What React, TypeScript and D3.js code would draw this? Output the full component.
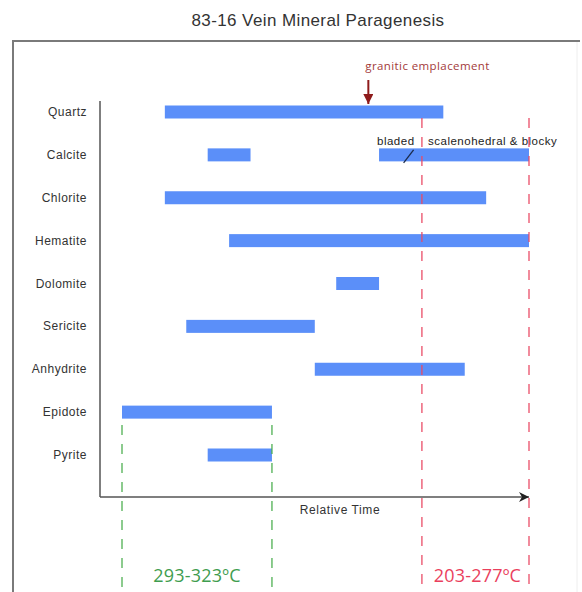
import React, { useEffect, useRef } from 'react';
import * as d3 from 'd3';

// minerals, top to bottom
const minerals = ['Quartz', 'Calcite', 'Chlorite', 'Hematite', 'Dolomite', 'Sericite', 'Anhydrite', 'Epidote', 'Pyrite'];

// growth intervals in relative time units [mineral, start, end]
const intervals: [string, number, number][] = [
  ['Quartz', 2, 15],
  ['Calcite', 4, 6],
  ['Calcite', 12, 19],
  ['Chlorite', 2, 17],
  ['Hematite', 5, 19],
  ['Dolomite', 10, 12],
  ['Sericite', 3, 9],
  ['Anhydrite', 9, 16],
  ['Epidote', 0, 7],
  ['Pyrite', 4, 7],
];

// temperature windows (relative time) and their labels
const hotWindow = [0, 7];
const hotLabel = '293-323ºC';
const coolWindow = [14, 19];
const coolLabel = '203-277ºC';

const emplacementTime = 11.5;
const calciteSplit = 13.8;

const W = 582, H = 592;

const App = () => {
  const ref = useRef<SVGSVGElement>(null);

  useEffect(() => {
    const svg = d3.select(ref.current);
    svg.selectAll('*').remove();

    const font = '"Liberation Sans", Arial, sans-serif';

    var x = d3.scaleLinear().domain([0, 19]).range([122, 529]);
    var y = d3.scalePoint<string>().domain(minerals).range([112, 455]);
    const barH = 13;

    const defs = svg.append('defs');
    defs.append('marker')
      .attr('id', 'axArrow').attr('viewBox', '0 0 10 10')
      .attr('refX', 10).attr('refY', 5)
      .attr('markerWidth', 10).attr('markerHeight', 10)
      .attr('markerUnits', 'userSpaceOnUse')
      .attr('orient', 'auto')
      .append('path').attr('d', 'M0,0 L10,5 L0,10 L3,5 Z').attr('fill', '#222');
    defs.append('marker')
      .attr('id', 'redArrow').attr('viewBox', '0 0 10 10')
      .attr('refX', 10).attr('refY', 5)
      .attr('markerWidth', 10).attr('markerHeight', 10)
      .attr('markerUnits', 'userSpaceOnUse')
      .attr('orient', 'auto')
      .append('path').attr('d', 'M0,0 L10,5 L0,10 Z').attr('fill', '#8e1b1b');

    // title
    svg.append('text')
      .attr('x', 318).attr('y', 26)
      .attr('text-anchor', 'middle')
      .style('font-family', font).style('font-size', '17px').style('fill', '#333')
      .style('letter-spacing', '0.4px')
      .text('83-16 Vein Mineral Paragenesis');

    // frame
    svg.append('line').attr('x1', 13).attr('x2', 580).attr('y1', 41).attr('y2', 41)
      .attr('stroke', '#7a7a7a').attr('stroke-width', 2);
    svg.append('line').attr('x1', 13).attr('x2', 13).attr('y1', 40).attr('y2', H)
      .attr('stroke', '#7a7a7a').attr('stroke-width', 2);
    svg.append('line').attr('x1', 577).attr('x2', 577).attr('y1', 42).attr('y2', H)
      .attr('stroke', '#eeeeee').attr('stroke-width', 1);

    // axes
    svg.append('line').attr('x1', 100).attr('x2', 100).attr('y1', 101).attr('y2', 497)
      .attr('stroke', '#555').attr('stroke-width', 1.5);
    svg.append('line').attr('x1', 100).attr('x2', x(19)).attr('y1', 497).attr('y2', 497)
      .attr('stroke', '#555').attr('stroke-width', 1.5)
      .attr('marker-end', 'url(#axArrow)');
    svg.append('text')
      .attr('x', 340).attr('y', 514)
      .attr('text-anchor', 'middle')
      .style('font-family', font).style('font-size', '12px').style('fill', '#333')
      .style('letter-spacing', '0.6px')
      .text('Relative Time');

    // mineral labels
    svg.append('g').selectAll('text').data(minerals).enter().append('text')
      .attr('x', 87).attr('y', d => y(d)! + 4)
      .attr('text-anchor', 'end')
      .style('font-family', font).style('font-size', '12px').style('fill', '#333')
      .style('letter-spacing', '0.5px')
      .text(d => d);

    // bars
    svg.append('g').selectAll('rect').data(intervals).enter().append('rect')
      .attr('x', d => x(d[1]))
      .attr('y', d => y(d[0])! - barH / 2)
      .attr('width', d => x(d[2]) - x(d[1]))
      .attr('height', barH)
      .attr('fill', '#5b8ff9');

    // calcite habit notes
    const cy = y('Calcite')!;
    svg.append('text').attr('x', 377).attr('y', cy - 10)
      .style('font-family', font).style('font-size', '11.5px').style('fill', '#222')
      .style('letter-spacing', '0.5px')
      .text('bladed');
    svg.append('text').attr('x', 428).attr('y', cy - 10)
      .style('font-family', font).style('font-size', '11.5px').style('fill', '#222')
      .style('letter-spacing', '0.5px')
      .text('scalenohedral & blocky');
    svg.append('line')
      .attr('x1', x(calciteSplit) - 14).attr('y1', cy + 8)
      .attr('x2', x(calciteSplit) - 4).attr('y2', cy - 5)
      .attr('stroke', '#1a2a4a').attr('stroke-width', 1.3);

    // temperature windows
    const dashes = (g: any, t: number, y0: number, color: string) =>
      g.append('line').attr('x1', x(t)).attr('x2', x(t)).attr('y1', y0).attr('y2', 588)
        .attr('stroke', color).attr('stroke-width', 1.5)
        .attr('stroke-dasharray', '10,9').attr('opacity', 0.85);
    const dl = svg.append('g');
    hotWindow.forEach(t => dashes(dl, t, 425, '#4caf50'));
    coolWindow.forEach(t => dashes(dl, t, 118, '#ea4b66'));

    svg.append('text')
      .attr('x', (x(hotWindow[0]) + x(hotWindow[1])) / 2).attr('y', 582)
      .attr('text-anchor', 'middle')
      .style('font-family', '"Open Sans", sans-serif').style('font-size', '18px').style('fill', '#3f9d4f')
      .style('letter-spacing', '0.2px')
      .text(hotLabel);
    svg.append('text')
      .attr('x', (x(coolWindow[0]) + x(coolWindow[1])) / 2 + 2).attr('y', 582)
      .attr('text-anchor', 'middle')
      .style('font-family', '"Open Sans", sans-serif').style('font-size', '18px').style('fill', '#ea3f5d')
      .style('letter-spacing', '0.2px')
      .text(coolLabel);

    // granitic emplacement
    svg.append('text')
      .attr('x', x(emplacementTime) - 3).attr('y', 70)
      .style('font-family', '"Open Sans", sans-serif').style('font-size', '11.5px').style('fill', '#a33a3a')
      .style('letter-spacing', '0.4px')
      .text('granitic emplacement');
    svg.append('line')
      .attr('x1', x(emplacementTime)).attr('x2', x(emplacementTime))
      .attr('y1', 80).attr('y2', 104)
      .attr('stroke', '#8e1b1b').attr('stroke-width', 2)
      .attr('marker-end', 'url(#redArrow)');
  }, []);

  return (
    <div style={{ position: 'fixed', left: 0, top: 0, background: '#fff' }}>
      <svg ref={ref} width={W} height={H} style={{ display: 'block' }} />
    </div>
  );
};

export default App;
